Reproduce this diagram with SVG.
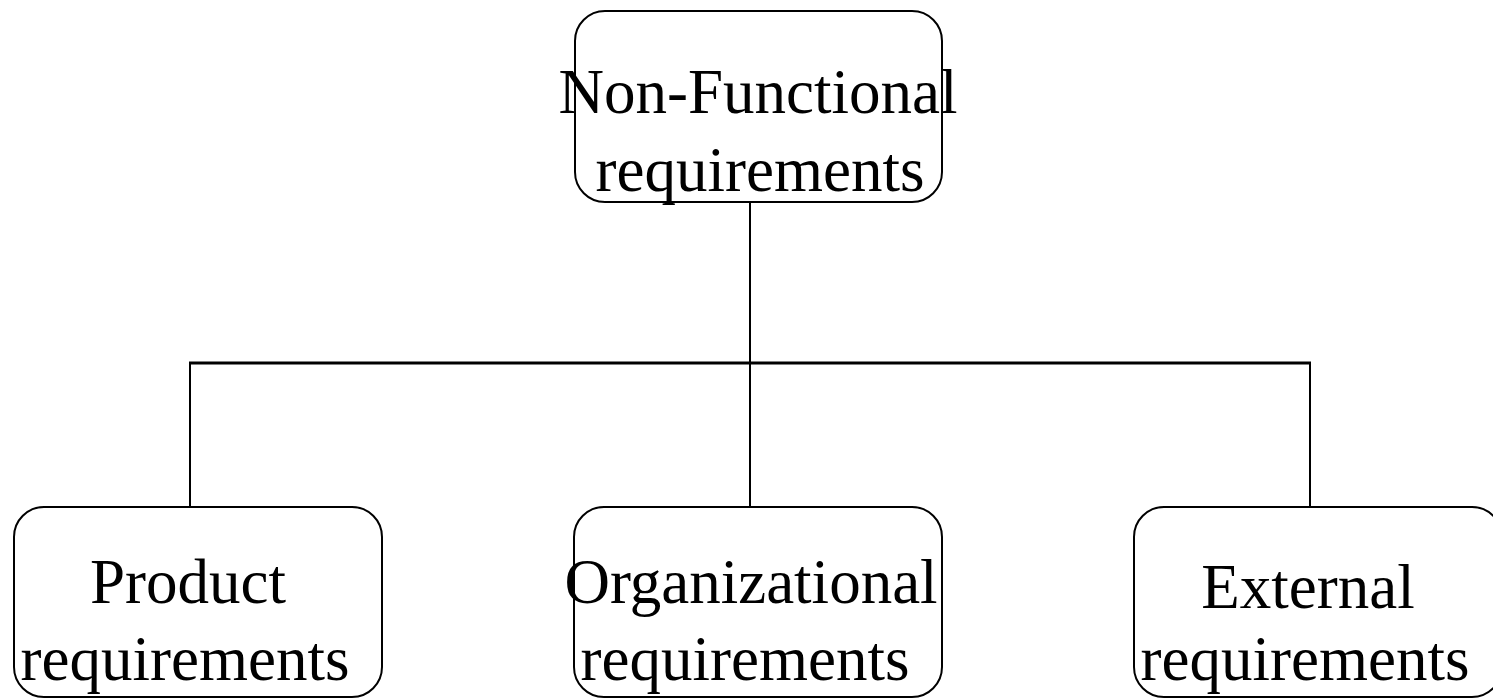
<svg xmlns="http://www.w3.org/2000/svg" width="1493" height="698" viewBox="0 0 1493 698">
  <style>
    .box { fill: #ffffff; stroke: #000000; stroke-width: 2; }
    .lbl { font-family: "Liberation Serif", "Times New Roman", serif; font-size: 63px; fill: #000000; text-anchor: middle; }
    .wire { stroke: #000000; stroke-width: 2; fill: none; }
    .bus { stroke: #000000; stroke-width: 3; fill: none; }
  </style>
  <rect width="1493" height="698" fill="#ffffff"/>

  <!-- tree connectors -->
  <g id="connectors">
    <line class="wire" x1="750" y1="202" x2="750" y2="363"/>
    <line class="bus" x1="189" y1="363" x2="1311" y2="363"/>
    <line class="wire" x1="190" y1="363" x2="190" y2="507"/>
    <line class="wire" x1="750" y1="363" x2="750" y2="507"/>
    <line class="wire" x1="1310" y1="363" x2="1310" y2="507"/>
  </g>

  <g id="node-nonfunctional">
    <rect class="box" x="575" y="11" width="367" height="191" rx="30" ry="30"/>
    <text class="lbl" x="758" y="113">Non-Functional</text>
    <text class="lbl" x="760" y="191">requirements</text>
  </g>

  <g id="node-product">
    <rect class="box" x="14" y="507" width="368" height="190" rx="30" ry="30"/>
    <text class="lbl" x="188" y="603">Product</text>
    <text class="lbl" x="185" y="680">requirements</text>
  </g>

  <g id="node-organizational">
    <rect class="box" x="574" y="507" width="368" height="190" rx="30" ry="30"/>
    <text class="lbl" x="751" y="603">Organizational</text>
    <text class="lbl" x="745" y="680">requirements</text>
  </g>

  <g id="node-external">
    <rect class="box" x="1134" y="507" width="368" height="190" rx="30" ry="30"/>
    <text class="lbl" x="1308" y="608">External</text>
    <text class="lbl" x="1305" y="680">requirements</text>
  </g>
</svg>
